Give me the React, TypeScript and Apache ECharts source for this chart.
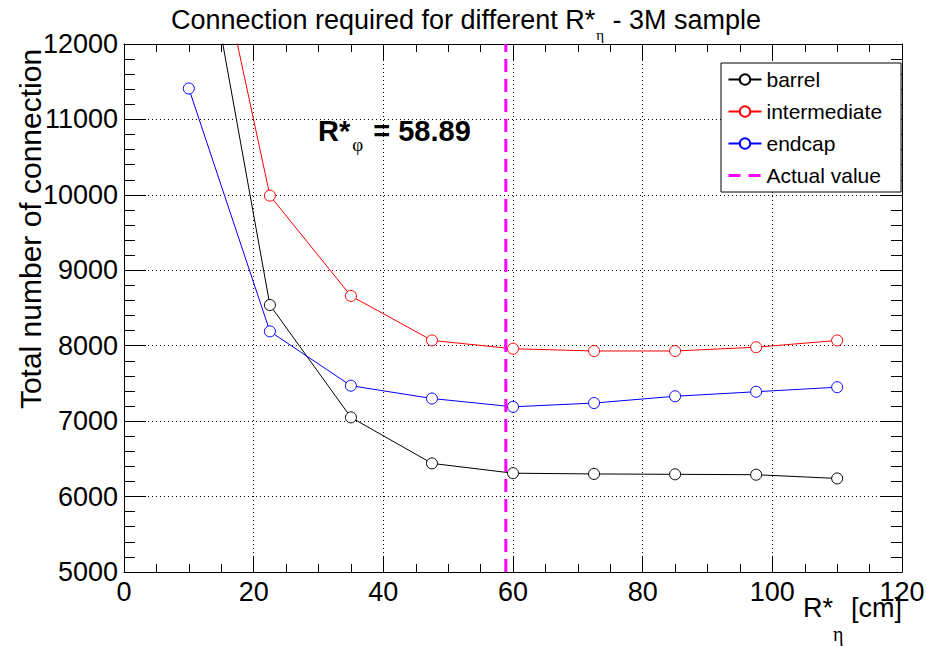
import React, { useEffect, useRef } from "react";
import * as echarts from "echarts";

const xValues = [10, 22.5, 35, 47.5, 60, 72.5, 85, 97.5, 110];
const barrel = [14500, 8540, 7050, 6440, 6310, 6300, 6295, 6290, 6240];
const intermediate = [15000, 9990, 8660, 8070, 7960, 7930, 7930, 7980, 8070];
const endcap = [11410, 8190, 7470, 7300, 7190, 7240, 7330, 7390, 7450];
const actualValue = 58.89;
const yRange = [5000, 12000];
const xRange = [0, 120];

const FONT = "'Liberation Sans', Arial, Helvetica, sans-serif";
const SERIF = "'Liberation Serif', 'DejaVu Serif', serif";

export default function App() {
  const ref = useRef<HTMLDivElement>(null);

  useEffect(() => {
    if (!ref.current) return;
    const chart = echarts.init(ref.current, undefined, { renderer: "svg" });

    const mk = (name: string, ys: number[], color: string) => ({
      name,
      type: "line",
      data: xValues.map((x, i) => [x, ys[i]]),
      symbol: "circle",
      symbolSize: 11,
      clip: true,
      lineStyle: { color, width: 1 },
      itemStyle: { color: "#fff", borderColor: color, borderWidth: 1 },
      z: 3,
    });

    const tickCommon = {
      axisLine: { show: true, onZero: false, lineStyle: { color: "#000", width: 1 } },
    };

    const option: any = {
      animation: false,
      backgroundColor: "#fff",
      textStyle: { fontFamily: FONT },
      grid: { left: 124, right: 25, top: 44, bottom: 74, containLabel: false, outerBoundsMode: "none" },
      xAxis: [
        {
          type: "value",
          min: xRange[0],
          max: xRange[1],
          interval: 20,
          position: "bottom",
          ...tickCommon,
          axisTick: { show: true, inside: true, length: 16, lineStyle: { color: "#000", width: 1 } },
          minorTick: { show: true, splitNumber: 4, length: 8, lineStyle: { color: "#000", width: 1 } },
          axisLabel: {
            show: true,
            color: "#000",
            fontSize: 27,
            fontFamily: FONT,
            margin: 6,
            formatter: (v: number) => String(v),
          },
          splitLine: { show: true, lineStyle: { color: "#000", width: 1, type: [1, 3] } },
        },
        {
          type: "value",
          min: xRange[0],
          max: xRange[1],
          interval: 20,
          position: "top",
          ...tickCommon,
          axisTick: { show: true, inside: true, length: 16, lineStyle: { color: "#000", width: 1 } },
          minorTick: { show: true, splitNumber: 4, length: 8, lineStyle: { color: "#000", width: 1 } },
          axisLabel: { show: false },
          splitLine: { show: false },
        },
      ],
      yAxis: [
        {
          type: "value",
          min: yRange[0],
          max: yRange[1],
          interval: 1000,
          position: "left",
          ...tickCommon,
          axisTick: { show: true, inside: true, length: 22, lineStyle: { color: "#000", width: 1 } },
          minorTick: { show: true, splitNumber: 5, length: 11, lineStyle: { color: "#000", width: 1 } },
          axisLabel: {
            show: true,
            color: "#000",
            fontSize: 27,
            fontFamily: FONT,
            margin: 6,
            formatter: (v: number) => String(v),
          },
          splitLine: { show: true, lineStyle: { color: "#000", width: 1, type: [1, 3] } },
        },
        {
          type: "value",
          min: yRange[0],
          max: yRange[1],
          interval: 1000,
          position: "right",
          ...tickCommon,
          axisTick: { show: true, inside: true, length: 22, lineStyle: { color: "#000", width: 1 } },
          minorTick: { show: true, splitNumber: 5, length: 11, lineStyle: { color: "#000", width: 1 } },
          axisLabel: { show: false },
          splitLine: { show: false },
        },
      ],
      legend: {
        show: true,
        orient: "vertical",
        left: 721,
        top: 63,
        align: "left",
        backgroundColor: "#fff",
        borderColor: "#000",
        borderWidth: 1,
        borderRadius: 0,
        padding: [6, 19, 6, 6],
        itemWidth: 33,
        itemHeight: 13,
        itemGap: 11,
        textStyle: { color: "#000", fontSize: 21, fontFamily: FONT, lineHeight: 21 },
        data: [
          { name: "barrel" },
          { name: "intermediate" },
          { name: "endcap" },
          {
            name: "Actual value",
            lineStyle: { type: [12, 8], width: 3 },
            itemStyle: { color: "transparent", borderColor: "transparent", borderWidth: 0, opacity: 0 },
          },
        ],
      },
      series: [
        mk("barrel", barrel, "#000000"),
        mk("intermediate", intermediate, "#ff0000"),
        mk("endcap", endcap, "#0000ff"),
        {
          name: "Actual value",
          type: "line",
          data: [
            [actualValue, yRange[0]],
            [actualValue, yRange[1]],
          ],
          symbol: "none",
          lineStyle: { color: "#ff00ff", width: 3, type: [13, 7] },
          itemStyle: { color: "#ff00ff" },
          z: 4,
        },
      ],
      graphic: [
        {
          type: "text",
          x: 466,
          y: 6,
          style: {
            text: "Connection required for different R*{sub|η} - 3M sample",
            align: "center",
            verticalAlign: "top",
            fill: "#000",
            fontSize: 27,
            lineHeight: 27,
            fontFamily: FONT,
            rich: {
              sub: { fontSize: 15, lineHeight: 15, fontFamily: SERIF, verticalAlign: "top", padding: [21, 1, 0, 1], fill: "#000" },
            },
          },
        },
        {
          type: "text",
          x: 902,
          y: 594,
          style: {
            text: "R*{sub|η} [cm]",
            align: "right",
            verticalAlign: "top",
            fill: "#000",
            fontSize: 27,
            lineHeight: 27,
            fontFamily: FONT,
            rich: {
              sub: { fontSize: 20, lineHeight: 20, fontFamily: SERIF, verticalAlign: "top", padding: [30, 0, 0, 0], fill: "#000" },
            },
          },
        },
        {
          type: "text",
          x: 318,
          y: 116,
          style: {
            text: "R*{sub|φ} = 58.89",
            align: "left",
            verticalAlign: "top",
            fill: "#000",
            fontSize: 29,
            lineHeight: 29,
            fontWeight: "bold",
            fontFamily: FONT,
            rich: {
              sub: { fontSize: 19, lineHeight: 19, fontFamily: SERIF, fontWeight: "normal", verticalAlign: "top", padding: [19, 2, 0, 2], fill: "#000" },
            },
          },
          z: 10,
        },
        {
          type: "text",
          x: 30.7,
          y: 229,
          rotation: Math.PI / 2,
          style: {
            text: "Total number of connection",
            align: "center",
            verticalAlign: "middle",
            fill: "#000",
            fontSize: 30,
            fontFamily: FONT,
          },
        },
      ],
    };

    chart.setOption(option);
    return () => chart.dispose();
  }, []);

  return (
    <div
      ref={ref}
      style={{ position: "fixed", left: 0, top: 0, width: 927, height: 646, background: "#fff" }}
    />
  );
}
